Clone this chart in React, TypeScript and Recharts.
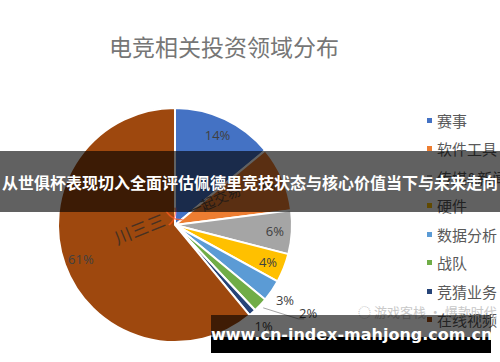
import { PieChart, Pie, Cell, Legend } from "recharts";

// 电竞相关投资领域分布 (values in %)
const categories = ["赛事", "软件工具", "传媒&新闻", "硬件", "数据分析", "战队", "竞猜业务", "在线视频"];
const shares = [14, 9, 6, 4, 3, 2, 1, 61];
const colors = ["#4472C4", "#ED7D31", "#A5A5A5", "#FFC000", "#5B9BD5", "#70AD47", "#264478", "#9E480E"];

const pieData = categories.map((name, i) => ({ name, value: shares[i] }));

const RADIAN = Math.PI / 180;
const labelFont = { fontFamily: "'Open Sans', sans-serif", fontSize: 13, fill: "#404040" };

const renderLabel = (props: any) => {
  const { cx, cy, midAngle, outerRadius, index, value } = props;
  const cos = Math.cos(-midAngle * RADIAN);
  const sin = Math.sin(-midAngle * RADIAN);
  const text = `${value}%`;
  // 战队 gets a leader line, the other thin slices sit just outside
  if (index === 5) {
    const sx = cx + (outerRadius + 4) * cos;
    const sy = cy + (outerRadius + 4) * sin;
    const ex = sx + 35;
    const ey = sy + 11;
    return (
      <g>
        <path d={`M${sx},${sy}L${ex},${ey}L${ex + 6},${ey}`} stroke="#A5A5A5" fill="none" strokeWidth={1} />
        <text x={ex + 10} y={ey - 6} textAnchor="middle" dominantBaseline="central" {...labelFont}>{text}</text>
      </g>
    );
  }
  let r = outerRadius - 17;
  if (index === 4) r = outerRadius + 16;
  if (index === 6) r = outerRadius + 17;
  return (
    <text x={cx + r * cos} y={cy + r * sin} textAnchor="middle" dominantBaseline="central" {...labelFont}>
      {text}
    </text>
  );
};

const renderLegend = (props: any) => {
  const payload: any[] = props.payload || [];
  // keep the legend in data order, not the sorted order
  const ordered = categories
    .map((name) => payload.find((p) => p.value === name))
    .filter(Boolean);
  return (
    <div>
      {ordered.map((entry: any, i: number) => (
        <div key={`leg-${i}`} style={{ height: 28.5, display: "flex", alignItems: "center", whiteSpace: "nowrap" }}>
          <span style={{ width: 5, height: 5, background: entry.color, marginRight: 5, display: "inline-block" }} />
          <span style={{ fontFamily: "'Noto Sans CJK SC', sans-serif", fontSize: 15, color: "#595959" }}>{entry.value}</span>
        </div>
      ))}
    </div>
  );
};

export default function App() {
  return (
    <div style={{ position: "fixed", left: 0, top: 0, width: 500, height: 362, background: "#fff", overflow: "hidden" }}>
      <div
        style={{
          position: "absolute", left: 0, top: 30, width: 448, textAlign: "center",
          fontFamily: "'Noto Sans CJK SC', sans-serif", fontSize: 23, color: "#767676", lineHeight: "32px",
        }}
      >
        电竞相关投资领域分布
      </div>
      <PieChart width={500} height={362}>
        <Pie
          data={pieData}
          dataKey="value"
          nameKey="name"
          cx={170}
          cy={220}
          outerRadius={117}
          startAngle={90}
          endAngle={-270}
          stroke="#fff"
          strokeWidth={2}
          label={renderLabel}
          labelLine={false}
          isAnimationActive={false}
        >
          {pieData.map((entry, index) => (
            <Cell key={`cell-${index}`} fill={colors[index]} />
          ))}
        </Pie>
        <Legend
          layout="vertical"
          content={renderLegend}
          wrapperStyle={{ position: "absolute", left: 427, top: 106, width: 90 }}
        />
      </PieChart>

      {/* watermark marks on the pie */}
      <div style={{ position: "absolute", left: 186, top: 190, transform: "rotate(-24deg)", fontFamily: "'Noto Sans CJK SC', sans-serif", fontSize: 14, color: "#3a3a3a", opacity: 0.8 }}>
        一起交易
      </div>
      <div style={{ position: "absolute", left: 112, top: 212, transform: "rotate(-22deg)", fontFamily: "'Noto Sans CJK SC', sans-serif", fontSize: 17, color: "#2a2a2a", opacity: 0.75, letterSpacing: 1 }}>
        川三三<span style={{ color: "#ff5a1f" }}>乂</span>
      </div>
      <div style={{ position: "absolute", left: 358, top: 302, fontFamily: "'Noto Sans CJK SC', sans-serif", fontSize: 13, color: "#c8c8c8" }}>
        ◌ 游戏客栈 · 爆款时代
      </div>

      {/* headline banner */}
      <div
        style={{
          position: "absolute", left: 0, top: 151, width: 500, height: 61, background: "rgba(0,0,0,0.62)",
          display: "flex", alignItems: "center", justifyContent: "center",
          fontFamily: "'Noto Sans CJK SC', sans-serif", fontWeight: 700, fontSize: 16, color: "#fff", whiteSpace: "nowrap",
        }}
      >
        从世俱杯表现切入全面评估佩德里竞技状态与核心价值当下与未来走向
      </div>

      {/* url banner */}
      <div style={{ position: "absolute", left: 211, top: 315, width: 280, height: 22, background: "rgba(0,0,0,0.6)" }} />
      <div style={{ position: "absolute", left: 211, top: 337, width: 280, height: 16, background: "#000" }} />
      <div
        style={{
          position: "absolute", left: 211, top: 322, width: 280, height: 26, textAlign: "center", lineHeight: "26px",
          fontFamily: "'DejaVu Sans', sans-serif", fontWeight: 700, fontSize: 16, color: "#fff", whiteSpace: "nowrap",
        }}
      >
        www.cn-index-mahjong.com.cn
      </div>
    </div>
  );
}
